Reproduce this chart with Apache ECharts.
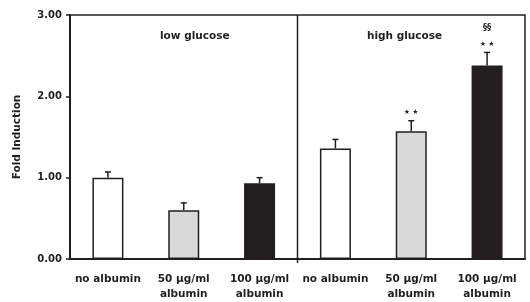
<!DOCTYPE html>
<html>
<head>
<meta charset="utf-8">
<script src="https://cdn.jsdelivr.net/npm/echarts@6/dist/echarts.min.js"></script>
<style>
  html, body { margin: 0; padding: 0; background: #fff; }
  #chart { width: 530px; height: 302px; }
</style>
</head>
<body>
<div id="chart"></div>
<script>
// values
var categories = ['no albumin', '50 µg/ml\nalbumin', '100 µg/ml\nalbumin',
                  'no albumin', '50 µg/ml\nalbumin', '100 µg/ml\nalbumin'];
var foldValues = [1.00, 0.60, 0.93, 1.36, 1.57, 2.38];
var errValues  = [0.07, 0.09, 0.07, 0.11, 0.13, 0.16];
var starMarks  = ['', '', '', '', '★ ★', '★ ★'];
var sectMarks  = ['', '', '', '', '', '§§'];
var barColors  = ['#ffffff', '#d9d9d9', '#231f20', '#ffffff', '#d9d9d9', '#231f20'];
var yTicks     = [0, 1, 2, 3];
var groupNames = ['low glucose', 'high glucose'];
var groupStart = 3; // first category of the high glucose group

var ink = '#231f20';
var font = 'DejaVu Sans';

var chart = echarts.init(document.getElementById('chart'));

var option = {
    animation: false,
    backgroundColor: '#fff',
    grid: {
        left: 70, right: 5, top: 15, bottom: 41,
        show: true, borderColor: ink, borderWidth: 1.5
    },
    xAxis: {
        type: 'category',
        data: categories,
        boundaryGap: true,
        axisLine: { lineStyle: { color: ink, width: 2 } },
        axisTick: { show: false },
        axisLabel: {
            color: ink, fontFamily: font, fontWeight: 'bold', fontSize: 10.5,
            lineHeight: 15, margin: 13, interval: 0
        },
        splitLine: { show: false }
    },
    yAxis: {
        type: 'value',
        min: yTicks[0], max: yTicks[yTicks.length - 1], interval: 1,
        name: 'Fold Induction',
        nameLocation: 'middle',
        nameGap: 47,
        nameRotate: 90,
        nameTextStyle: { color: ink, fontFamily: font, fontWeight: 'bold', fontSize: 10.5 },
        axisLine: { show: true, lineStyle: { color: ink, width: 2 } },
        axisTick: { show: true, length: 4, lineStyle: { color: ink, width: 1.5 } },
        axisLabel: {
            color: ink, fontFamily: font, fontWeight: 'bold', fontSize: 10,
            margin: 8,
            formatter: function (v) { return v.toFixed(2); }
        },
        splitLine: { show: false }
    },
    graphic: [
        { type: 'text', left: 160, top: 31, style: { text: groupNames[0], fill: ink, font: 'bold 10.5px "DejaVu Sans"' } },
        { type: 'text', left: 367, top: 31, style: { text: groupNames[1], fill: ink, font: 'bold 10.5px "DejaVu Sans"' } }
    ],
    series: [
        {
            type: 'bar',
            barWidth: 31,
            data: foldValues.map(function (v, i) {
                return {
                    value: v,
                    itemStyle: { color: barColors[i], borderColor: ink, borderWidth: 1.5 }
                };
            }),
            z: 2
        },
        {
            type: 'custom',
            z: 3,
            data: foldValues.map(function (v, i) { return [i, v, errValues[i]]; }),
            renderItem: function (params, api) {
                var i = api.value(0);
                var base = api.coord([i, api.value(1)]);
                var top = api.coord([i, api.value(1) + api.value(2)]);
                var children = [
                    { type: 'line', shape: { x1: base[0], y1: base[1], x2: top[0], y2: top[1] },
                      style: { stroke: ink, lineWidth: 1.5 } },
                    { type: 'line', shape: { x1: top[0] - 3, y1: top[1], x2: top[0] + 3, y2: top[1] },
                      style: { stroke: ink, lineWidth: 1.5 } }
                ];
                if (starMarks[i]) {
                    children.push({
                        type: 'text',
                        style: {
                            text: starMarks[i], x: top[0], y: top[1] - 5,
                            align: 'center', verticalAlign: 'bottom',
                            fill: ink, font: '7px "DejaVu Sans"'
                        }
                    });
                }
                if (sectMarks[i]) {
                    children.push({
                        type: 'text',
                        style: {
                            text: sectMarks[i], x: top[0], y: top[1] - 20,
                            align: 'center', verticalAlign: 'bottom',
                            fill: ink, font: 'bold 8px "DejaVu Sans"'
                        }
                    });
                }
                if (i === groupStart) {
                    // divider between the two glucose groups, on the category boundary
                    var cx = api.coord([i, 0]);
                    var half = api.size([1, 0])[0] / 2;
                    var yTop = api.coord([i, yTicks[yTicks.length - 1]])[1];
                    children.push({
                        type: 'line',
                        shape: { x1: cx[0] - half, y1: yTop, x2: cx[0] - half, y2: cx[1] + 4 },
                        style: { stroke: ink, lineWidth: 1.5 }
                    });
                }
                return { type: 'group', children: children };
            }
        }
    ]
};

chart.setOption(option);
</script>
</body>
</html>
